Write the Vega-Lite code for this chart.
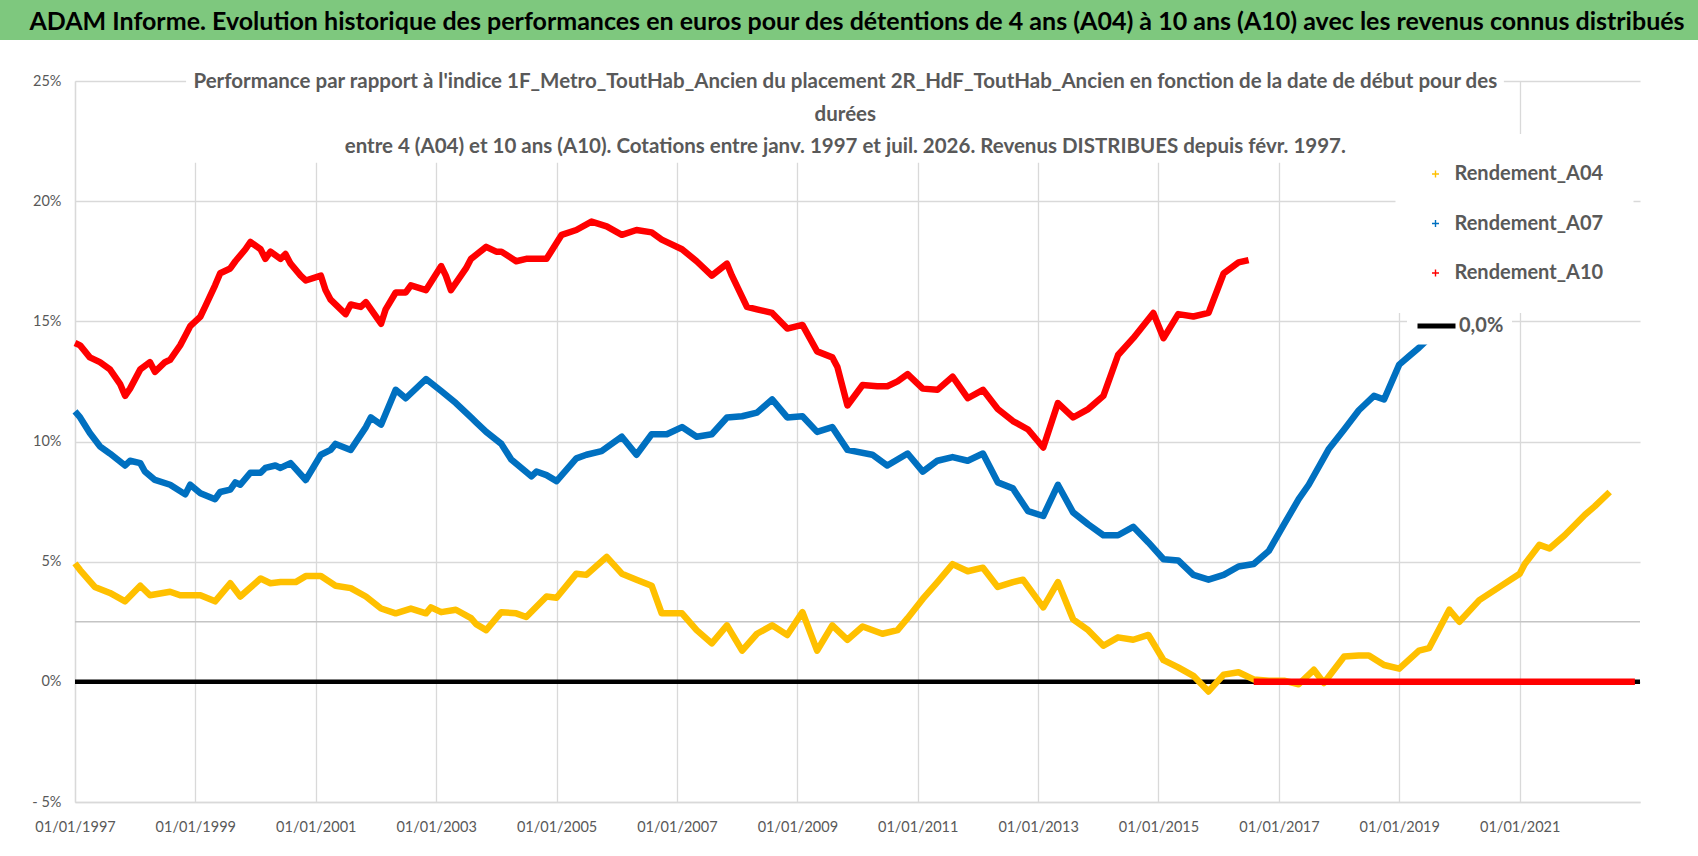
{
  "$schema": "https://vega.github.io/schema/vega-lite/v6.json",
  "padding": 0,
  "background": "white",
  "spacing": 22,
  "config": {
    "view": {"stroke": null},
    "font": "Lato",
    "axis": {
      "labelFont": "Lato", "labelFontSize": 14.5, "labelColor": "#595959",
      "ticks": false, "domainColor": "#d9d9d9", "domainWidth": 1.3,
      "gridColor": "#d9d9d9", "gridWidth": 1.3, "title": null,
      "labelFlush": false
    },
    "legend": {
      "labelFont": "Lato", "labelFontSize": 20, "labelFontWeight": "bold", "labelColor": "#595959",
      "fillColor": "white", "padding": 30, "rowPadding": 29.5, "labelLimit": 400
    }
  },
  "vconcat": [
    {
      "width": 1698,
      "height": 40,
      "view": {"fill": "#7ec87e", "stroke": null},
      "data": {"values": [{"t": "ADAM Informe. Evolution historique des performances en euros pour des détentions de 4 ans (A04) à 10 ans (A10) avec les revenus connus distribués"}]},
      "mark": {"type": "text", "font": "Lato", "fontSize": 25, "fontWeight": "bold", "color": "black", "baseline": "middle", "align": "center", "dy": 2, "dx": 8},
      "encoding": {"text": {"field": "t"}}
    },
    {
      "spacing": 0,
      "hconcat": [
        {
          "width": 1,
          "height": 1,
          "data": {"values": []},
          "mark": "point"
        },
        {
          "width": 1565,
          "height": 721,
          "data": {"values": [
            {"d":"1997-01","s":"Rendement_A04","g":"A04","v":4.93},{"d":"1997-02","s":"Rendement_A04","g":"A04","v":4.65},{"d":"1997-05","s":"Rendement_A04","g":"A04","v":3.95},{"d":"1997-08","s":"Rendement_A04","g":"A04","v":3.7},{"d":"1997-11","s":"Rendement_A04","g":"A04","v":3.35},
            {"d":"1998-02","s":"Rendement_A04","g":"A04","v":4.0},{"d":"1998-04","s":"Rendement_A04","g":"A04","v":3.6},{"d":"1998-08","s":"Rendement_A04","g":"A04","v":3.75},{"d":"1998-10","s":"Rendement_A04","g":"A04","v":3.6},
            {"d":"1999-02","s":"Rendement_A04","g":"A04","v":3.6},{"d":"1999-05","s":"Rendement_A04","g":"A04","v":3.35},{"d":"1999-08","s":"Rendement_A04","g":"A04","v":4.1},{"d":"1999-10","s":"Rendement_A04","g":"A04","v":3.55},
            {"d":"2000-02","s":"Rendement_A04","g":"A04","v":4.3},{"d":"2000-04","s":"Rendement_A04","g":"A04","v":4.1},{"d":"2000-06","s":"Rendement_A04","g":"A04","v":4.15},{"d":"2000-09","s":"Rendement_A04","g":"A04","v":4.15},{"d":"2000-11","s":"Rendement_A04","g":"A04","v":4.4},
            {"d":"2001-02","s":"Rendement_A04","g":"A04","v":4.4},{"d":"2001-05","s":"Rendement_A04","g":"A04","v":4.0},{"d":"2001-08","s":"Rendement_A04","g":"A04","v":3.9},{"d":"2001-11","s":"Rendement_A04","g":"A04","v":3.55},
            {"d":"2002-02","s":"Rendement_A04","g":"A04","v":3.05},{"d":"2002-05","s":"Rendement_A04","g":"A04","v":2.85},{"d":"2002-08","s":"Rendement_A04","g":"A04","v":3.05},{"d":"2002-11","s":"Rendement_A04","g":"A04","v":2.85},{"d":"2002-12","s":"Rendement_A04","g":"A04","v":3.1},
            {"d":"2003-02","s":"Rendement_A04","g":"A04","v":2.9},{"d":"2003-05","s":"Rendement_A04","g":"A04","v":3.0},{"d":"2003-08","s":"Rendement_A04","g":"A04","v":2.65},{"d":"2003-09","s":"Rendement_A04","g":"A04","v":2.4},{"d":"2003-11","s":"Rendement_A04","g":"A04","v":2.15},
            {"d":"2004-02","s":"Rendement_A04","g":"A04","v":2.9},{"d":"2004-05","s":"Rendement_A04","g":"A04","v":2.85},{"d":"2004-07","s":"Rendement_A04","g":"A04","v":2.7},{"d":"2004-11","s":"Rendement_A04","g":"A04","v":3.55},
            {"d":"2005-01","s":"Rendement_A04","g":"A04","v":3.5},{"d":"2005-05","s":"Rendement_A04","g":"A04","v":4.5},{"d":"2005-07","s":"Rendement_A04","g":"A04","v":4.45},{"d":"2005-11","s":"Rendement_A04","g":"A04","v":5.2},
            {"d":"2006-02","s":"Rendement_A04","g":"A04","v":4.5},{"d":"2006-05","s":"Rendement_A04","g":"A04","v":4.25},{"d":"2006-08","s":"Rendement_A04","g":"A04","v":4.0},{"d":"2006-10","s":"Rendement_A04","g":"A04","v":2.85},
            {"d":"2007-02","s":"Rendement_A04","g":"A04","v":2.85},{"d":"2007-05","s":"Rendement_A04","g":"A04","v":2.15},{"d":"2007-08","s":"Rendement_A04","g":"A04","v":1.6},{"d":"2007-11","s":"Rendement_A04","g":"A04","v":2.35},
            {"d":"2008-02","s":"Rendement_A04","g":"A04","v":1.3},{"d":"2008-05","s":"Rendement_A04","g":"A04","v":2.0},{"d":"2008-08","s":"Rendement_A04","g":"A04","v":2.35},{"d":"2008-11","s":"Rendement_A04","g":"A04","v":1.95},
            {"d":"2009-02","s":"Rendement_A04","g":"A04","v":2.9},{"d":"2009-05","s":"Rendement_A04","g":"A04","v":1.3},{"d":"2009-08","s":"Rendement_A04","g":"A04","v":2.35},{"d":"2009-11","s":"Rendement_A04","g":"A04","v":1.75},
            {"d":"2010-02","s":"Rendement_A04","g":"A04","v":2.3},{"d":"2010-06","s":"Rendement_A04","g":"A04","v":2.0},{"d":"2010-09","s":"Rendement_A04","g":"A04","v":2.15},{"d":"2010-11","s":"Rendement_A04","g":"A04","v":2.65},
            {"d":"2011-02","s":"Rendement_A04","g":"A04","v":3.45},{"d":"2011-05","s":"Rendement_A04","g":"A04","v":4.15},{"d":"2011-08","s":"Rendement_A04","g":"A04","v":4.9},{"d":"2011-11","s":"Rendement_A04","g":"A04","v":4.6},
            {"d":"2012-02","s":"Rendement_A04","g":"A04","v":4.75},{"d":"2012-05","s":"Rendement_A04","g":"A04","v":3.95},{"d":"2012-08","s":"Rendement_A04","g":"A04","v":4.15},{"d":"2012-10","s":"Rendement_A04","g":"A04","v":4.25},
            {"d":"2013-02","s":"Rendement_A04","g":"A04","v":3.1},{"d":"2013-05","s":"Rendement_A04","g":"A04","v":4.15},{"d":"2013-08","s":"Rendement_A04","g":"A04","v":2.6},{"d":"2013-11","s":"Rendement_A04","g":"A04","v":2.15},
            {"d":"2014-02","s":"Rendement_A04","g":"A04","v":1.5},{"d":"2014-05","s":"Rendement_A04","g":"A04","v":1.85},{"d":"2014-08","s":"Rendement_A04","g":"A04","v":1.75},{"d":"2014-11","s":"Rendement_A04","g":"A04","v":1.95},
            {"d":"2015-02","s":"Rendement_A04","g":"A04","v":0.9},{"d":"2015-05","s":"Rendement_A04","g":"A04","v":0.6},{"d":"2015-08","s":"Rendement_A04","g":"A04","v":0.25},{"d":"2015-11","s":"Rendement_A04","g":"A04","v":-0.4},
            {"d":"2016-02","s":"Rendement_A04","g":"A04","v":0.3},{"d":"2016-05","s":"Rendement_A04","g":"A04","v":0.4},{"d":"2016-08","s":"Rendement_A04","g":"A04","v":0.1},{"d":"2016-11","s":"Rendement_A04","g":"A04","v":0.05},
            {"d":"2017-02","s":"Rendement_A04","g":"A04","v":0.05},{"d":"2017-05","s":"Rendement_A04","g":"A04","v":-0.1},{"d":"2017-08","s":"Rendement_A04","g":"A04","v":0.5},{"d":"2017-10","s":"Rendement_A04","g":"A04","v":-0.05},
            {"d":"2018-02","s":"Rendement_A04","g":"A04","v":1.05},{"d":"2018-05","s":"Rendement_A04","g":"A04","v":1.1},{"d":"2018-07","s":"Rendement_A04","g":"A04","v":1.1},{"d":"2018-10","s":"Rendement_A04","g":"A04","v":0.7},
            {"d":"2019-01","s":"Rendement_A04","g":"A04","v":0.55},{"d":"2019-05","s":"Rendement_A04","g":"A04","v":1.3},{"d":"2019-07","s":"Rendement_A04","g":"A04","v":1.4},{"d":"2019-11","s":"Rendement_A04","g":"A04","v":3.0},
            {"d":"2020-01","s":"Rendement_A04","g":"A04","v":2.5},{"d":"2020-05","s":"Rendement_A04","g":"A04","v":3.4},{"d":"2020-09","s":"Rendement_A04","g":"A04","v":3.95},
            {"d":"2021-01","s":"Rendement_A04","g":"A04","v":4.5},{"d":"2021-02","s":"Rendement_A04","g":"A04","v":4.9},{"d":"2021-05","s":"Rendement_A04","g":"A04","v":5.7},{"d":"2021-07","s":"Rendement_A04","g":"A04","v":5.55},{"d":"2021-10","s":"Rendement_A04","g":"A04","v":6.1},
            {"d":"2022-02","s":"Rendement_A04","g":"A04","v":6.95},{"d":"2022-04","s":"Rendement_A04","g":"A04","v":7.3},{"d":"2022-07","s":"Rendement_A04","g":"A04","v":7.9},

            {"d":"1997-01","s":"Rendement_A07","g":"A07","v":11.25},{"d":"1997-02","s":"Rendement_A07","g":"A07","v":11.0},{"d":"1997-04","s":"Rendement_A07","g":"A07","v":10.35},{"d":"1997-06","s":"Rendement_A07","g":"A07","v":9.8},{"d":"1997-08","s":"Rendement_A07","g":"A07","v":9.5},{"d":"1997-11","s":"Rendement_A07","g":"A07","v":9.0},{"d":"1997-12","s":"Rendement_A07","g":"A07","v":9.2},
            {"d":"1998-02","s":"Rendement_A07","g":"A07","v":9.1},{"d":"1998-03","s":"Rendement_A07","g":"A07","v":8.75},{"d":"1998-05","s":"Rendement_A07","g":"A07","v":8.4},{"d":"1998-08","s":"Rendement_A07","g":"A07","v":8.2},{"d":"1998-11","s":"Rendement_A07","g":"A07","v":7.8},{"d":"1998-12","s":"Rendement_A07","g":"A07","v":8.2},
            {"d":"1999-02","s":"Rendement_A07","g":"A07","v":7.85},{"d":"1999-05","s":"Rendement_A07","g":"A07","v":7.6},{"d":"1999-06","s":"Rendement_A07","g":"A07","v":7.9},{"d":"1999-08","s":"Rendement_A07","g":"A07","v":8.0},{"d":"1999-09","s":"Rendement_A07","g":"A07","v":8.3},{"d":"1999-10","s":"Rendement_A07","g":"A07","v":8.2},{"d":"1999-12","s":"Rendement_A07","g":"A07","v":8.7},
            {"d":"2000-02","s":"Rendement_A07","g":"A07","v":8.7},{"d":"2000-03","s":"Rendement_A07","g":"A07","v":8.9},{"d":"2000-05","s":"Rendement_A07","g":"A07","v":9.0},{"d":"2000-06","s":"Rendement_A07","g":"A07","v":8.9},{"d":"2000-08","s":"Rendement_A07","g":"A07","v":9.1},{"d":"2000-11","s":"Rendement_A07","g":"A07","v":8.4},
            {"d":"2001-02","s":"Rendement_A07","g":"A07","v":9.45},{"d":"2001-04","s":"Rendement_A07","g":"A07","v":9.65},{"d":"2001-05","s":"Rendement_A07","g":"A07","v":9.9},{"d":"2001-08","s":"Rendement_A07","g":"A07","v":9.65},{"d":"2001-11","s":"Rendement_A07","g":"A07","v":10.6},{"d":"2001-12","s":"Rendement_A07","g":"A07","v":11.0},
            {"d":"2002-02","s":"Rendement_A07","g":"A07","v":10.7},{"d":"2002-05","s":"Rendement_A07","g":"A07","v":12.15},{"d":"2002-07","s":"Rendement_A07","g":"A07","v":11.8},{"d":"2002-11","s":"Rendement_A07","g":"A07","v":12.6},
            {"d":"2003-02","s":"Rendement_A07","g":"A07","v":12.1},{"d":"2003-05","s":"Rendement_A07","g":"A07","v":11.6},{"d":"2003-08","s":"Rendement_A07","g":"A07","v":11.0},{"d":"2003-09","s":"Rendement_A07","g":"A07","v":10.8},{"d":"2003-11","s":"Rendement_A07","g":"A07","v":10.4},
            {"d":"2004-02","s":"Rendement_A07","g":"A07","v":9.9},{"d":"2004-04","s":"Rendement_A07","g":"A07","v":9.25},{"d":"2004-08","s":"Rendement_A07","g":"A07","v":8.55},{"d":"2004-09","s":"Rendement_A07","g":"A07","v":8.75},{"d":"2004-11","s":"Rendement_A07","g":"A07","v":8.6},
            {"d":"2005-01","s":"Rendement_A07","g":"A07","v":8.35},{"d":"2005-05","s":"Rendement_A07","g":"A07","v":9.3},{"d":"2005-07","s":"Rendement_A07","g":"A07","v":9.45},{"d":"2005-10","s":"Rendement_A07","g":"A07","v":9.6},
            {"d":"2006-02","s":"Rendement_A07","g":"A07","v":10.2},{"d":"2006-05","s":"Rendement_A07","g":"A07","v":9.45},{"d":"2006-08","s":"Rendement_A07","g":"A07","v":10.3},{"d":"2006-11","s":"Rendement_A07","g":"A07","v":10.3},
            {"d":"2007-02","s":"Rendement_A07","g":"A07","v":10.6},{"d":"2007-05","s":"Rendement_A07","g":"A07","v":10.2},{"d":"2007-08","s":"Rendement_A07","g":"A07","v":10.3},{"d":"2007-11","s":"Rendement_A07","g":"A07","v":11.0},
            {"d":"2008-02","s":"Rendement_A07","g":"A07","v":11.05},{"d":"2008-05","s":"Rendement_A07","g":"A07","v":11.2},{"d":"2008-08","s":"Rendement_A07","g":"A07","v":11.75},{"d":"2008-11","s":"Rendement_A07","g":"A07","v":11.0},
            {"d":"2009-02","s":"Rendement_A07","g":"A07","v":11.05},{"d":"2009-05","s":"Rendement_A07","g":"A07","v":10.4},{"d":"2009-08","s":"Rendement_A07","g":"A07","v":10.6},{"d":"2009-11","s":"Rendement_A07","g":"A07","v":9.65},
            {"d":"2010-04","s":"Rendement_A07","g":"A07","v":9.45},{"d":"2010-07","s":"Rendement_A07","g":"A07","v":9.0},{"d":"2010-11","s":"Rendement_A07","g":"A07","v":9.5},
            {"d":"2011-02","s":"Rendement_A07","g":"A07","v":8.75},{"d":"2011-05","s":"Rendement_A07","g":"A07","v":9.2},{"d":"2011-08","s":"Rendement_A07","g":"A07","v":9.35},{"d":"2011-11","s":"Rendement_A07","g":"A07","v":9.2},
            {"d":"2012-02","s":"Rendement_A07","g":"A07","v":9.5},{"d":"2012-05","s":"Rendement_A07","g":"A07","v":8.3},{"d":"2012-08","s":"Rendement_A07","g":"A07","v":8.05},{"d":"2012-11","s":"Rendement_A07","g":"A07","v":7.1},
            {"d":"2013-02","s":"Rendement_A07","g":"A07","v":6.9},{"d":"2013-05","s":"Rendement_A07","g":"A07","v":8.2},{"d":"2013-08","s":"Rendement_A07","g":"A07","v":7.05},{"d":"2013-11","s":"Rendement_A07","g":"A07","v":6.55},
            {"d":"2014-02","s":"Rendement_A07","g":"A07","v":6.1},{"d":"2014-05","s":"Rendement_A07","g":"A07","v":6.1},{"d":"2014-08","s":"Rendement_A07","g":"A07","v":6.45},{"d":"2014-11","s":"Rendement_A07","g":"A07","v":5.8},
            {"d":"2015-02","s":"Rendement_A07","g":"A07","v":5.1},{"d":"2015-05","s":"Rendement_A07","g":"A07","v":5.05},{"d":"2015-08","s":"Rendement_A07","g":"A07","v":4.45},{"d":"2015-11","s":"Rendement_A07","g":"A07","v":4.25},
            {"d":"2016-02","s":"Rendement_A07","g":"A07","v":4.45},{"d":"2016-05","s":"Rendement_A07","g":"A07","v":4.8},{"d":"2016-08","s":"Rendement_A07","g":"A07","v":4.9},{"d":"2016-11","s":"Rendement_A07","g":"A07","v":5.45},
            {"d":"2017-02","s":"Rendement_A07","g":"A07","v":6.55},{"d":"2017-05","s":"Rendement_A07","g":"A07","v":7.6},{"d":"2017-07","s":"Rendement_A07","g":"A07","v":8.2},{"d":"2017-11","s":"Rendement_A07","g":"A07","v":9.7},
            {"d":"2018-02","s":"Rendement_A07","g":"A07","v":10.5},{"d":"2018-05","s":"Rendement_A07","g":"A07","v":11.3},{"d":"2018-08","s":"Rendement_A07","g":"A07","v":11.9},{"d":"2018-10","s":"Rendement_A07","g":"A07","v":11.75},
            {"d":"2019-01","s":"Rendement_A07","g":"A07","v":13.2},{"d":"2019-03","s":"Rendement_A07","g":"A07","v":13.55},{"d":"2019-05","s":"Rendement_A07","g":"A07","v":13.9},{"d":"2019-07","s":"Rendement_A07","g":"A07","v":14.3},

            {"d":"1997-01","s":"Rendement_A10","g":"A10","v":14.1},{"d":"1997-02","s":"Rendement_A10","g":"A10","v":14.0},{"d":"1997-04","s":"Rendement_A10","g":"A10","v":13.5},{"d":"1997-06","s":"Rendement_A10","g":"A10","v":13.3},{"d":"1997-08","s":"Rendement_A10","g":"A10","v":13.0},{"d":"1997-10","s":"Rendement_A10","g":"A10","v":12.4},{"d":"1997-11","s":"Rendement_A10","g":"A10","v":11.9},{"d":"1997-12","s":"Rendement_A10","g":"A10","v":12.2},
            {"d":"1998-02","s":"Rendement_A10","g":"A10","v":13.0},{"d":"1998-04","s":"Rendement_A10","g":"A10","v":13.3},{"d":"1998-05","s":"Rendement_A10","g":"A10","v":12.9},{"d":"1998-07","s":"Rendement_A10","g":"A10","v":13.3},{"d":"1998-08","s":"Rendement_A10","g":"A10","v":13.4},{"d":"1998-10","s":"Rendement_A10","g":"A10","v":14.0},{"d":"1998-11","s":"Rendement_A10","g":"A10","v":14.4},{"d":"1998-12","s":"Rendement_A10","g":"A10","v":14.8},
            {"d":"1999-02","s":"Rendement_A10","g":"A10","v":15.2},{"d":"1999-03","s":"Rendement_A10","g":"A10","v":15.6},{"d":"1999-05","s":"Rendement_A10","g":"A10","v":16.5},{"d":"1999-06","s":"Rendement_A10","g":"A10","v":17.0},{"d":"1999-08","s":"Rendement_A10","g":"A10","v":17.2},{"d":"1999-09","s":"Rendement_A10","g":"A10","v":17.5},{"d":"1999-11","s":"Rendement_A10","g":"A10","v":18.0},{"d":"1999-12","s":"Rendement_A10","g":"A10","v":18.3},
            {"d":"2000-02","s":"Rendement_A10","g":"A10","v":18.0},{"d":"2000-03","s":"Rendement_A10","g":"A10","v":17.6},{"d":"2000-04","s":"Rendement_A10","g":"A10","v":17.9},{"d":"2000-06","s":"Rendement_A10","g":"A10","v":17.6},{"d":"2000-07","s":"Rendement_A10","g":"A10","v":17.8},{"d":"2000-08","s":"Rendement_A10","g":"A10","v":17.4},{"d":"2000-10","s":"Rendement_A10","g":"A10","v":16.9},{"d":"2000-11","s":"Rendement_A10","g":"A10","v":16.7},
            {"d":"2001-02","s":"Rendement_A10","g":"A10","v":16.9},{"d":"2001-03","s":"Rendement_A10","g":"A10","v":16.3},{"d":"2001-04","s":"Rendement_A10","g":"A10","v":15.9},{"d":"2001-06","s":"Rendement_A10","g":"A10","v":15.5},{"d":"2001-07","s":"Rendement_A10","g":"A10","v":15.3},{"d":"2001-08","s":"Rendement_A10","g":"A10","v":15.7},{"d":"2001-10","s":"Rendement_A10","g":"A10","v":15.6},{"d":"2001-11","s":"Rendement_A10","g":"A10","v":15.8},
            {"d":"2002-02","s":"Rendement_A10","g":"A10","v":14.9},{"d":"2002-03","s":"Rendement_A10","g":"A10","v":15.5},{"d":"2002-05","s":"Rendement_A10","g":"A10","v":16.2},{"d":"2002-07","s":"Rendement_A10","g":"A10","v":16.2},{"d":"2002-08","s":"Rendement_A10","g":"A10","v":16.5},{"d":"2002-11","s":"Rendement_A10","g":"A10","v":16.3},
            {"d":"2003-02","s":"Rendement_A10","g":"A10","v":17.3},{"d":"2003-03","s":"Rendement_A10","g":"A10","v":16.9},{"d":"2003-04","s":"Rendement_A10","g":"A10","v":16.3},{"d":"2003-07","s":"Rendement_A10","g":"A10","v":17.2},{"d":"2003-08","s":"Rendement_A10","g":"A10","v":17.6},{"d":"2003-11","s":"Rendement_A10","g":"A10","v":18.1},
            {"d":"2004-01","s":"Rendement_A10","g":"A10","v":17.9},{"d":"2004-02","s":"Rendement_A10","g":"A10","v":17.9},{"d":"2004-05","s":"Rendement_A10","g":"A10","v":17.5},{"d":"2004-07","s":"Rendement_A10","g":"A10","v":17.6},{"d":"2004-11","s":"Rendement_A10","g":"A10","v":17.6},
            {"d":"2005-02","s":"Rendement_A10","g":"A10","v":18.6},{"d":"2005-05","s":"Rendement_A10","g":"A10","v":18.8},{"d":"2005-08","s":"Rendement_A10","g":"A10","v":19.15},{"d":"2005-11","s":"Rendement_A10","g":"A10","v":18.95},
            {"d":"2006-02","s":"Rendement_A10","g":"A10","v":18.6},{"d":"2006-05","s":"Rendement_A10","g":"A10","v":18.8},{"d":"2006-08","s":"Rendement_A10","g":"A10","v":18.7},{"d":"2006-10","s":"Rendement_A10","g":"A10","v":18.4},
            {"d":"2007-02","s":"Rendement_A10","g":"A10","v":18.0},{"d":"2007-05","s":"Rendement_A10","g":"A10","v":17.5},{"d":"2007-08","s":"Rendement_A10","g":"A10","v":16.9},{"d":"2007-11","s":"Rendement_A10","g":"A10","v":17.4},{"d":"2007-12","s":"Rendement_A10","g":"A10","v":16.9},
            {"d":"2008-03","s":"Rendement_A10","g":"A10","v":15.6},{"d":"2008-05","s":"Rendement_A10","g":"A10","v":15.5},{"d":"2008-08","s":"Rendement_A10","g":"A10","v":15.35},{"d":"2008-11","s":"Rendement_A10","g":"A10","v":14.7},
            {"d":"2009-02","s":"Rendement_A10","g":"A10","v":14.85},{"d":"2009-05","s":"Rendement_A10","g":"A10","v":13.75},{"d":"2009-08","s":"Rendement_A10","g":"A10","v":13.5},{"d":"2009-09","s":"Rendement_A10","g":"A10","v":13.1},{"d":"2009-11","s":"Rendement_A10","g":"A10","v":11.5},
            {"d":"2010-02","s":"Rendement_A10","g":"A10","v":12.35},{"d":"2010-05","s":"Rendement_A10","g":"A10","v":12.3},{"d":"2010-07","s":"Rendement_A10","g":"A10","v":12.3},{"d":"2010-09","s":"Rendement_A10","g":"A10","v":12.5},{"d":"2010-11","s":"Rendement_A10","g":"A10","v":12.8},
            {"d":"2011-02","s":"Rendement_A10","g":"A10","v":12.2},{"d":"2011-05","s":"Rendement_A10","g":"A10","v":12.15},{"d":"2011-08","s":"Rendement_A10","g":"A10","v":12.7},{"d":"2011-11","s":"Rendement_A10","g":"A10","v":11.8},
            {"d":"2012-02","s":"Rendement_A10","g":"A10","v":12.15},{"d":"2012-05","s":"Rendement_A10","g":"A10","v":11.35},{"d":"2012-08","s":"Rendement_A10","g":"A10","v":10.85},{"d":"2012-11","s":"Rendement_A10","g":"A10","v":10.5},
            {"d":"2013-02","s":"Rendement_A10","g":"A10","v":9.75},{"d":"2013-05","s":"Rendement_A10","g":"A10","v":11.6},{"d":"2013-08","s":"Rendement_A10","g":"A10","v":11.0},{"d":"2013-11","s":"Rendement_A10","g":"A10","v":11.35},
            {"d":"2014-02","s":"Rendement_A10","g":"A10","v":11.9},{"d":"2014-05","s":"Rendement_A10","g":"A10","v":13.6},{"d":"2014-08","s":"Rendement_A10","g":"A10","v":14.3},{"d":"2014-12","s":"Rendement_A10","g":"A10","v":15.35},
            {"d":"2015-02","s":"Rendement_A10","g":"A10","v":14.3},{"d":"2015-05","s":"Rendement_A10","g":"A10","v":15.3},{"d":"2015-08","s":"Rendement_A10","g":"A10","v":15.2},{"d":"2015-11","s":"Rendement_A10","g":"A10","v":15.35},
            {"d":"2016-02","s":"Rendement_A10","g":"A10","v":17.0},{"d":"2016-05","s":"Rendement_A10","g":"A10","v":17.45},{"d":"2016-07","s":"Rendement_A10","g":"A10","v":17.55},

            {"d":"2016-08","s":"Rendement_A10","g":"A10z","v":0},{"d":"2017-08","s":"Rendement_A10","g":"A10z","v":0},{"d":"2018-08","s":"Rendement_A10","g":"A10z","v":0},{"d":"2019-08","s":"Rendement_A10","g":"A10z","v":0},{"d":"2020-08","s":"Rendement_A10","g":"A10z","v":0},{"d":"2021-08","s":"Rendement_A10","g":"A10z","v":0},{"d":"2022-12","s":"Rendement_A10","g":"A10z","v":0}
          ]},
          "layer": [
            {
              "data": {"values": [{}]},
              "mark": {"type": "rule", "color": "#c4c4c4", "strokeWidth": 1.5},
              "encoding": {"y": {"datum": 2.5, "type": "quantitative"}}
            },
            {
              "data": {"values": [{}]},
              "mark": {"type": "rule", "color": "black", "strokeWidth": 4.5},
              "encoding": {
                "y": {"datum": 0, "type": "quantitative"},
                "strokeDash": {
                  "datum": "0,0%",
                  "scale": {"range": [[1, 0]]},
                  "legend": {
                    "title": null, "orient": "none", "legendX": 1407, "legendY": 296.5, "padding": 8,
                    "symbolType": "stroke", "symbolSize": 1444, "symbolStrokeWidth": 5,
                    "symbolStrokeColor": "black", "labelOffset": 1
                  }
                }
              }
            },
            {
              "mark": {"type": "line", "strokeWidth": 6.5, "strokeJoin": "round"},
              "encoding": {
                "x": {
                  "field": "d", "type": "temporal",
                  "scale": {"type": "utc", "domain": [{"year": 1997, "month": 1, "date": 1, "utc": true}, {"year": 2023, "month": 1, "date": 1, "utc": true}]},
                  "axis": {
                    "values": [
                      {"year": 1997, "month": 1, "date": 1, "utc": true}, {"year": 1999, "month": 1, "date": 1, "utc": true},
                      {"year": 2001, "month": 1, "date": 1, "utc": true}, {"year": 2003, "month": 1, "date": 1, "utc": true},
                      {"year": 2005, "month": 1, "date": 1, "utc": true}, {"year": 2007, "month": 1, "date": 1, "utc": true},
                      {"year": 2009, "month": 1, "date": 1, "utc": true}, {"year": 2011, "month": 1, "date": 1, "utc": true},
                      {"year": 2013, "month": 1, "date": 1, "utc": true}, {"year": 2015, "month": 1, "date": 1, "utc": true},
                      {"year": 2017, "month": 1, "date": 1, "utc": true}, {"year": 2019, "month": 1, "date": 1, "utc": true},
                      {"year": 2021, "month": 1, "date": 1, "utc": true}
                    ],
                    "labelExpr": "utcFormat(datum.value, '%d/%m/%Y')", "labelPadding": 18, "grid": true, "labelOverlap": false
                  }
                },
                "y": {
                  "field": "v", "type": "quantitative",
                  "scale": {"domain": [-5, 25], "nice": false, "zero": false},
                  "axis": {
                    "values": [-5, 0, 5, 10, 15, 20, 25],
                    "labelExpr": "datum.value < 0 ? '- ' + abs(datum.value) + '%' : datum.value + '%'",
                    "labelPadding": 14, "grid": true, "minExtent": 74, "maxExtent": 74
                  }
                },
                "color": {
                  "field": "s", "type": "nominal",
                  "scale": {"domain": ["Rendement_A04", "Rendement_A07", "Rendement_A10"], "range": ["#FFC000", "#0070C0", "#FF0000"]},
                  "legend": {
                    "title": null, "orient": "none", "legendX": 1395.5, "legendY": 134,
                    "symbolType": "M-1,0H1M0,-1V1", "symbolSize": 49, "symbolStrokeWidth": 1.4,
                    "labelOffset": 9
                  }
                },
                "detail": {"field": "g"}
              }
            },
            {
              "data": {"values": [{}]},
              "mark": {"type": "rect", "color": "white", "strokeWidth": 0},
              "encoding": {
                "x": {"datum": {"year": 1998, "month": 11, "date": 6, "utc": true}, "type": "temporal"},
                "x2": {"datum": {"year": 2020, "month": 9, "date": 27, "utc": true}},
                "y": {"datum": 25.75, "type": "quantitative"},
                "y2": {"datum": 21.6}
              }
            },
            {
              "data": {"values": [{}]},
              "mark": {"type": "text", "font": "Lato", "fontSize": 20.5, "fontWeight": "bold", "color": "#595959", "align": "center", "baseline": "top", "lineHeight": 32.5, "dy": -9},
              "encoding": {
                "x": {"datum": {"year": 2009, "month": 10, "date": 19, "utc": true}, "type": "temporal"},
                "y": {"datum": 25, "type": "quantitative"},
                "text": {"value": [
                  "Performance par rapport à l'indice 1F_Metro_ToutHab_Ancien  du placement 2R_HdF_ToutHab_Ancien en fonction de la date de début pour des",
                  "durées",
                  "entre 4 (A04) et 10 ans (A10). Cotations entre janv. 1997 et juil. 2026. Revenus DISTRIBUES depuis févr. 1997."
                ]}
              }
            }
          ]
        }
      ]
    }
  ]
}
